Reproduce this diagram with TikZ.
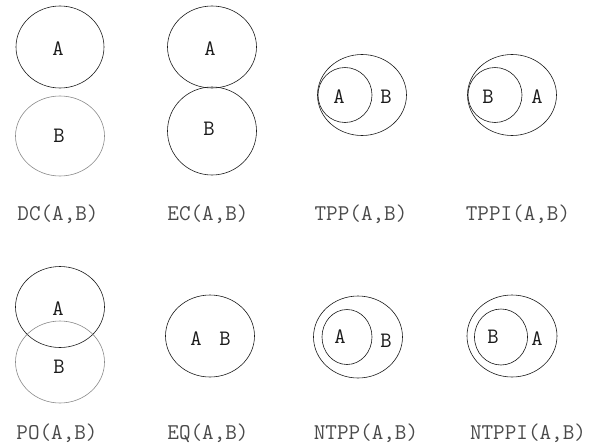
\documentclass[tikz,border=0pt]{standalone}
\usepackage{tikz}
\usetikzlibrary{shapes.geometric}
\definecolor{ink}{HTML}{1A1A1A}
\definecolor{bk50}{HTML}{8A8A8A}
\definecolor{bk70}{HTML}{4A4A4A}
\tikzset{
  region/.style={
    ellipse, draw=#1, line width=0.6pt, inner sep=0pt
  },
  region/.default=ink,
  letter/.style={
    anchor=base, inner sep=0pt, text=ink,
    font=\ttfamily\fontsize{22}{22}\selectfont
  },
  relname/.style={
    anchor=base, inner sep=0pt, text=bk70,
    font=\ttfamily\fontsize{22.5}{22}\selectfont
  },
}
\begin{document}
\begin{tikzpicture}[x=1pt, y=-1pt]
\useasboundingbox (0,0) rectangle (590,445);

% DC
\node[region, minimum width=88pt, minimum height=82pt] (dcA) at (60,47) {};
\node[region=bk50, minimum width=89pt, minimum height=80pt] (dcB) at (60,136) {};
\node[letter] (dcAt) at (58,55) {A};
\node[letter] (dcBt) at (59,142) {B};
\node[relname] (dc) at (58,220) {DC(A,B)};

% EC
\node[region, minimum width=89pt, minimum height=82pt] (ecA) at (212,47) {};
\node[region, minimum width=89pt, minimum height=88pt] (ecB) at (212,131) {};
\node[letter] (ecAt) at (210,55) {A};
\node[letter] (ecBt) at (209,135) {B};
\node[relname] (ec) at (208,220) {EC(A,B)};

% TPP
\node[region, minimum width=89pt, minimum height=81pt] (tppB) at (362,95) {};
\node[region, minimum width=54pt, minimum height=55pt] (tppA) at (345,95) {};
\node[letter] (tppAt) at (339,103) {A};
\node[letter] (tppBt) at (386,103) {B};
\node[relname] (tpp) at (361,220) {TPP(A,B)};

% TPPI
\node[region, minimum width=89pt, minimum height=81pt] (tppiA) at (512,95) {};
\node[region, minimum width=54pt, minimum height=55pt] (tppiB) at (495,95) {};
\node[letter] (tppiBt) at (488,103) {B};
\node[letter] (tppiAt) at (537,103) {A};
\node[relname] (tppi) at (518,220) {TPPI(A,B)};

% PO
\node[region, minimum width=89pt, minimum height=81pt] (poA) at (60,307) {};
\node[region=bk50, minimum width=89pt, minimum height=82pt] (poB) at (60,362) {};
\node[letter] (poAt) at (58,315) {A};
\node[letter] (poBt) at (59,373) {B};
\node[relname] (po) at (57,439) {PO(A,B)};

% EQ
\node[region, minimum width=89pt, minimum height=82pt] (eqAB) at (210,336) {};
\node[letter] (eqAt) at (196,345) {A};
\node[letter] (eqBt) at (225,345) {B};
\node[relname] (eq) at (208,439) {EQ(A,B)};

% NTPP
\node[region, minimum width=89pt, minimum height=82pt] (ntppB) at (358,337) {};
\node[region, minimum width=50pt, minimum height=55pt] (ntppA) at (347,337) {};
\node[letter] (ntppAt) at (340,343) {A};
\node[letter] (ntppBt) at (386,347) {B};
\node[relname] (ntpp) at (366,439) {NTPP(A,B)};

% NTPPI
\node[region, minimum width=90pt, minimum height=82pt] (ntppiA) at (512,336) {};
\node[region, minimum width=53pt, minimum height=56pt] (ntppiB) at (501,337) {};
\node[letter] (ntppiBt) at (493,343) {B};
\node[letter] (ntppiAt) at (537,345) {A};
\node[relname] (ntppi) at (528,439) {NTPPI(A,B)};

\end{tikzpicture}
\end{document}
